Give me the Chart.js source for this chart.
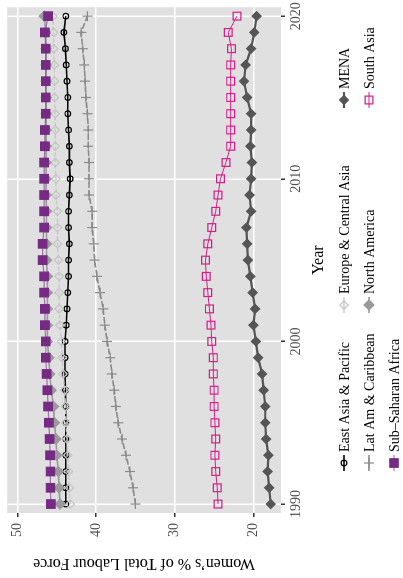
<!DOCTYPE html>
<html>
<head>
<meta charset="utf-8">
<script src="https://cdn.jsdelivr.net/npm/chart.js@4.4.0/dist/chart.umd.min.js"></script>
<style>
html, body { margin: 0; padding: 0; background: #fff; overflow: hidden; }
/* the chart is drawn upright, then turned a quarter turn counter-clockwise */
#wrap { position: absolute; left: 0; top: 0; width: 578px; height: 403px;
        transform-origin: 0 0; transform: translateY(578px) rotate(-90deg); }
</style>
</head>
<body>
<div id="wrap"><canvas id="chart" width="578" height="403"></canvas></div>
<script>
// years on the x axis
const years = [1990, 1991, 1992, 1993, 1994, 1995, 1996, 1997, 1998, 1999,
               2000, 2001, 2002, 2003, 2004, 2005, 2006, 2007, 2008, 2009,
               2010, 2011, 2012, 2013, 2014, 2015, 2016, 2017, 2018, 2019, 2020];
const yearTicks = [1990, 2000, 2010, 2020];
const shareTicks = [20, 30, 40, 50];

// women's share of the labour force (%)
const eastAsia = [43.85, 43.85, 43.85, 43.85, 43.85, 43.85, 43.85, 43.9, 43.95, 43.95,
                  43.95, 43.8, 43.7, 43.6, 43.5, 43.5, 43.4, 43.5, 43.5, 43.4,
                  43.3, 43.4, 43.4, 43.5, 43.6, 43.6, 43.7, 43.8, 43.9, 44.1, 43.85];
const europe = [43.3, 43.4, 43.5, 43.6, 43.7, 43.85, 43.9, 44.0, 44.2, 44.3,
                44.4, 44.6, 44.7, 44.7, 44.7, 44.8, 44.9, 44.9, 44.9, 45.1,
                45.1, 45.2, 45.2, 45.2, 45.2, 45.3, 45.3, 45.3, 45.4, 45.4, 45.5];
const latAm = [35.0, 35.3, 35.7, 36.2, 36.7, 37.2, 37.5, 37.7, 38.0, 38.2,
               38.6, 38.9, 39.1, 39.5, 39.9, 40.2, 40.3, 40.5, 40.5, 40.9,
               40.9, 40.9, 41.0, 41.0, 41.1, 41.3, 41.4, 41.5, 41.7, 41.9, 41.1];
const mena = [17.8, 18.0, 18.2, 18.1, 18.4, 18.5, 18.5, 18.7, 18.9, 19.4,
              19.7, 20.0, 19.8, 20.1, 20.4, 20.7, 20.8, 20.9, 20.3, 20.5,
              20.3, 20.2, 20.4, 20.3, 20.3, 20.8, 21.2, 21.0, 20.3, 19.9, 19.6];
const northAmerica = [44.6, 44.7, 44.8, 45.0, 45.1, 45.3, 45.4, 45.7, 45.9, 46.0,
                      46.2, 46.2, 46.2, 46.2, 46.2, 46.3, 46.3, 46.3, 46.3, 46.35,
                      46.35, 46.35, 46.35, 46.35, 46.35, 46.35, 46.35, 46.35, 46.35, 46.4, 46.6];
const southAsia = [24.5, 24.6, 24.8, 24.9, 24.8, 24.9, 25.0, 25.0, 25.1, 25.1,
                   25.3, 25.4, 25.6, 25.8, 26.0, 26.1, 25.8, 25.3, 24.8, 24.5,
                   24.2, 23.5, 22.9, 22.9, 22.9, 22.9, 22.9, 22.9, 22.8, 23.2, 22.1];
const subSaharan = [45.75, 45.8, 45.8, 45.85, 45.9, 46.0, 46.1, 46.2, 46.3, 46.4,
                    46.4, 46.5, 46.5, 46.6, 46.6, 46.8, 46.8, 46.6, 46.6, 46.6,
                    46.6, 46.6, 46.5, 46.5, 46.4, 46.4, 46.4, 46.4, 46.4, 46.5, 46.1];

const serif = '"Liberation Serif", "DejaVu Serif", serif';

function series(label, values, o) {
    return {
        label: label,
        data: values.map((v, i) => ({ x: years[i], y: v })),
        borderColor: o.line,
        borderWidth: o.width,
        borderDash: o.dash || [],
        pointStyle: o.shape,
        pointRadius: o.r,
        pointBorderColor: o.stroke,
        pointBackgroundColor: o.fill,
        pointBorderWidth: o.pw || 1.2,
        tension: 0,
        order: o.order
    };
}

const datasets = [
    series('East Asia & Pacific', eastAsia, { line: '#000', width: 1.6, shape: 'circle', r: 2.8, stroke: '#000', fill: 'rgba(0,0,0,0)', order: 7 }),
    series('Europe & Central Asia', europe, { line: '#c8c8c8', width: 1.4, dash: [4, 2], shape: 'rectRot', r: 4.2, stroke: '#c4c4c4', fill: 'rgba(0,0,0,0)', order: 6 }),
    series('Lat Am & Caribbean', latAm, { line: '#8a8a8a', width: 1.6, dash: [6, 2], shape: 'cross', r: 5, stroke: '#8a8a8a', fill: '#8a8a8a', order: 5 }),
    series('MENA', mena, { line: '#555555', width: 2.2, shape: 'rectRot', r: 4.5, stroke: '#555555', fill: '#555555', order: 4 }),
    series('North America', northAmerica, { line: '#9a9a9a', width: 1.6, shape: 'rectRot', r: 5, stroke: '#9a9a9a', fill: '#9a9a9a', order: 3 }),
    series('South Asia', southAsia, { line: '#d0208c', width: 1, shape: 'rect', r: 5.5, stroke: '#d0208c', fill: 'rgba(0,0,0,0)', order: 2 }),
    series('Sub\u2013Saharan Africa', subSaharan, { line: 'rgba(118,42,131,0.6)', width: 1.2, shape: 'rect', r: 6, stroke: '#762a83', fill: '#762a83', order: 1 })
];

// legend grid: [dataset index, column x, row y]
const legendSlots = [[0, 115, 344], [1, 273, 344], [3, 478, 344],
                     [2, 115, 369], [4, 273, 369], [5, 478, 369],
                     [6, 115, 394]];

function drawMarker(ctx, ds, x, y) {
    const r = ds.pointRadius;
    ctx.save();
    ctx.lineWidth = ds.pointBorderWidth;
    ctx.strokeStyle = ds.pointBorderColor;
    ctx.fillStyle = ds.pointBackgroundColor;
    ctx.beginPath();
    if (ds.pointStyle === 'circle') {
        ctx.arc(x, y, r, 0, Math.PI * 2);
    } else if (ds.pointStyle === 'rect') {
        const s = r * Math.SQRT1_2;
        ctx.rect(x - s, y - s, 2 * s, 2 * s);
    } else if (ds.pointStyle === 'rectRot') {
        ctx.moveTo(x, y - r); ctx.lineTo(x + r, y); ctx.lineTo(x, y + r); ctx.lineTo(x - r, y); ctx.closePath();
    } else if (ds.pointStyle === 'cross') {
        ctx.moveTo(x - r, y); ctx.lineTo(x + r, y); ctx.moveTo(x, y - r); ctx.lineTo(x, y + r);
    }
    if (ds.pointStyle !== 'cross') ctx.fill();
    ctx.stroke();
    ctx.restore();
}

const panelAndLegend = {
    id: 'panelAndLegend',
    beforeDraw(chart) {
        const a = chart.chartArea;
        const ctx = chart.ctx;
        ctx.save();
        ctx.fillStyle = '#e0e0e0';
        ctx.fillRect(a.left, a.top, a.right - a.left, a.bottom - a.top);
        ctx.restore();
    },
    afterDraw(chart) {
        const ctx = chart.ctx;
        ctx.save();
        ctx.font = '14px ' + serif;
        ctx.textBaseline = 'middle';
        ctx.textAlign = 'left';
        legendSlots.forEach(([i, x, y]) => {
            const ds = datasets[i];
            ctx.save();
            ctx.strokeStyle = ds.borderColor;
            ctx.lineWidth = ds.borderWidth;
            ctx.beginPath();
            ctx.moveTo(x - 8, y); ctx.lineTo(x + 8, y);
            ctx.stroke();
            ctx.restore();
            drawMarker(ctx, ds, x, y);
            ctx.fillStyle = '#000';
            ctx.fillText(ds.label, x + 11, y + 1);
        });
        ctx.restore();
    }
};

new Chart(document.getElementById('chart'), {
    type: 'line',
    data: { datasets: datasets },
    plugins: [panelAndLegend],
    options: {
        responsive: false,
        animation: false,
        devicePixelRatio: 1,
        layout: { padding: { top: 7, right: 3, bottom: 75, left: 0 } },
        plugins: { legend: { display: false }, tooltip: { enabled: false } },
        scales: {
            x: {
                type: 'linear',
                min: 1989.45,
                max: 2020.55,
                afterBuildTicks: s => { s.ticks = yearTicks.map(v => ({ value: v })); },
                // let the last year label run off the edge, as in the original
                afterFit: s => { s.height = 47; s.paddingLeft = 0; s.paddingRight = 0; },
                grid: { color: '#ffffff', lineWidth: 1.5, tickColor: '#333', tickLength: 4 },
                border: { display: false },
                ticks: { color: '#4d4d4d', padding: 3, maxRotation: 0, callback: v => String(v),
                         font: { family: serif, size: 14 } },
                title: { display: true, text: 'Year', color: '#000', padding: 0, font: { family: serif, size: 16 } }
            },
            y: {
                min: 16.5,
                max: 51.3,
                afterBuildTicks: s => { s.ticks = shareTicks.map(v => ({ value: v })); },
                afterFit: s => { s.width = 65; s.paddingTop = 0; s.paddingBottom = 0; },
                grid: { color: '#ffffff', lineWidth: 1.5, tickColor: '#333', tickLength: 4 },
                border: { display: false },
                ticks: { color: '#4d4d4d', padding: 6, font: { family: serif, size: 14 } },
                title: { display: true, text: 'Women\u2019s % of Total Labour Force', color: '#000',
                         padding: { top: 5, bottom: 0 }, font: { family: serif, size: 16 } }
            }
        }
    }
});
</script>
</body>
</html>
